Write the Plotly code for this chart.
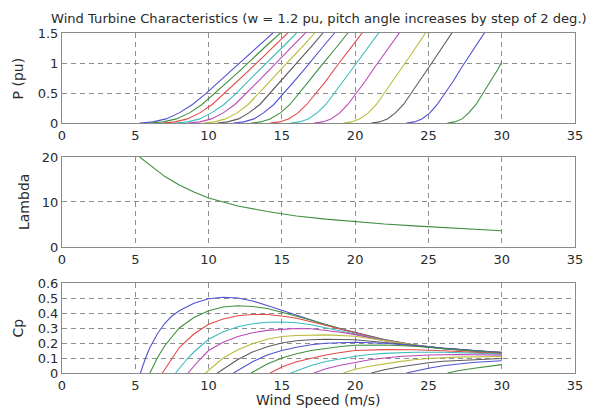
import plotly.graph_objects as go

# ---------------- data ----------------
COLORS = ["#5252d4", "#3f8f3f", "#e24a4a", "#3cbcbc", "#bb4abb", "#bcbc3a", "#5c5c5c"]

# Power curves: wind speed (m/s) and power (pu) for pitch 0,2,...,30 deg
P_SPEED = [
    [5.3, 6.2, 7.1, 8.0, 8.9, 9.85, 10.75, 11.65, 12.6, 13.5, 14.4, 15.3],
    [6.0, 6.9, 7.8, 8.7, 9.55, 10.45, 11.35, 12.25, 13.1, 14.0, 14.9, 15.8],
    [6.85, 7.7, 8.55, 9.4, 10.25, 11.1, 12.0, 12.85, 13.7, 14.55, 15.4, 16.25],
    [7.75, 8.6, 9.4, 10.2, 11.05, 11.9, 12.7, 13.55, 14.35, 15.2, 16.0, 16.8],
    [8.6, 9.4, 10.2, 11.0, 11.8, 12.6, 13.4, 14.2, 15.0, 15.8, 16.6, 17.4],
    [9.65, 10.4, 11.15, 11.95, 12.7, 13.45, 14.2, 14.95, 15.75, 16.5, 17.25, 18.0],
    [10.6, 11.3, 12.05, 12.75, 13.5, 14.2, 14.9, 15.65, 16.35, 17.1, 17.8, 18.5],
    [11.7, 12.4, 13.1, 13.75, 14.45, 15.15, 15.85, 16.55, 17.2, 17.9, 18.6, 19.3],
    [12.9, 13.55, 14.2, 14.9, 15.55, 16.2, 16.85, 17.5, 18.2, 18.85, 19.5, 20.15],
    [14.2, 14.85, 15.45, 16.1, 16.7, 17.35, 18.0, 18.6, 19.25, 19.85, 20.5, 21.1],
    [15.6, 16.2, 16.8, 17.4, 18.0, 18.6, 19.2, 19.8, 20.4, 21.0, 21.6, 22.2],
    [17.2, 17.8, 18.35, 18.95, 19.5, 20.1, 20.7, 21.25, 21.85, 22.4, 23.0, 23.6],
    [19.2, 19.75, 20.3, 20.9, 21.45, 22.0, 22.55, 23.1, 23.7, 24.25, 24.8, 25.35],
    [21.1, 21.65, 22.2, 22.75, 23.3, 23.85, 24.4, 24.95, 25.5, 26.05, 26.6, 27.15],
    [23.5, 24.05, 24.55, 25.1, 25.6, 26.15, 26.7, 27.2, 27.75, 28.25, 28.8, 29.35],
    [26.3, 26.8, 27.3, 27.75, 28.25, 28.75, 29.25, 29.75, 30.0],
]
P_VALUE = [
    [0, 0.02, 0.07, 0.17, 0.31, 0.5, 0.7, 0.9, 1.1, 1.3, 1.5, 1.7],
] * 15 + [
    [0, 0.02, 0.07, 0.17, 0.31, 0.5, 0.7, 0.9, 1.02],
]

# Tip speed ratio curve
LAMBDA_SPEED = [5.3, 6, 7, 8, 9, 10, 12, 14, 16, 18, 20, 22, 24, 26, 28, 30]
LAMBDA_VALUE = [20, 18.2, 15.7, 13.8, 12.2, 10.9, 9.1, 7.9, 6.9, 6.2, 5.6, 5.1, 4.7, 4.3, 3.95, 3.6]

# Power coefficient curves
CP_SPEED = [
    [5.35, 5.7, 6, 6.5, 7, 7.5, 8, 9, 10, 11, 12, 13, 14, 15, 16, 17, 18, 19, 20, 22, 24, 26, 28, 30],
    [6.0, 6.5, 7, 8, 9, 10, 11, 12, 13, 14, 15, 16, 17, 18, 19, 20, 22, 24, 26, 28, 30],
    [6.85, 7.5, 8, 9, 10, 11, 12, 13, 14, 15, 16, 17, 18, 19, 20, 22, 24, 26, 28, 30],
    [7.75, 8.5, 9, 10, 11, 12, 13, 14, 15, 16, 17, 18, 19, 20, 22, 24, 26, 30],
    [8.6, 9.3, 10, 11, 12, 13, 14, 15, 16, 17, 18, 19, 20, 22, 24, 26, 30],
    [9.8, 11, 12, 13, 14, 15, 16, 17, 18, 20, 22, 24, 26, 30],
    [10.6, 12, 13, 14, 15, 16, 17, 18, 20, 22, 24, 26, 30],
    [11.7, 13, 14, 15, 16, 17, 18, 20, 22, 24, 26, 30],
    [12.9, 14, 15, 16, 17, 18, 19, 20, 22, 24, 26, 30],
    [14.2, 15, 16, 17, 18, 19, 20, 22, 24, 26, 30],
    [15.6, 16, 17, 18, 19, 20, 21, 22, 24, 26, 30],
    [17.2, 18, 19, 20, 21, 22, 23, 25, 27, 30],
    [19.2, 20, 21, 22, 23, 24, 25, 27, 30],
    [21.1, 22, 23, 24, 25, 26, 28, 30],
    [23.5, 24, 25, 26, 27, 28, 30],
    [26.3, 27, 28, 29, 30],
]
CP_VALUE = [
    [0, 0.1, 0.17, 0.26, 0.33, 0.38, 0.415, 0.465, 0.495, 0.505, 0.5, 0.48, 0.45, 0.418, 0.385, 0.352, 0.322, 0.294, 0.27, 0.223, 0.188, 0.164, 0.148, 0.138],
    [0, 0.1, 0.18, 0.3, 0.37, 0.415, 0.44, 0.448, 0.443, 0.43, 0.405, 0.38, 0.352, 0.323, 0.295, 0.268, 0.222, 0.187, 0.163, 0.147, 0.137],
    [0, 0.1, 0.17, 0.26, 0.325, 0.36, 0.382, 0.39, 0.39, 0.38, 0.365, 0.342, 0.318, 0.292, 0.266, 0.22, 0.186, 0.162, 0.147, 0.136],
    [0, 0.09, 0.14, 0.225, 0.275, 0.308, 0.328, 0.338, 0.34, 0.335, 0.322, 0.303, 0.282, 0.26, 0.218, 0.185, 0.162, 0.134],
    [0, 0.08, 0.15, 0.205, 0.243, 0.268, 0.284, 0.293, 0.297, 0.295, 0.286, 0.272, 0.256, 0.216, 0.185, 0.163, 0.135],
    [0, 0.1, 0.155, 0.195, 0.225, 0.243, 0.25, 0.254, 0.254, 0.245, 0.215, 0.186, 0.164, 0.137],
    [0, 0.09, 0.14, 0.175, 0.2, 0.215, 0.222, 0.225, 0.222, 0.205, 0.185, 0.165, 0.137],
    [0, 0.075, 0.12, 0.15, 0.172, 0.188, 0.198, 0.205, 0.198, 0.182, 0.163, 0.134],
    [0, 0.06, 0.1, 0.128, 0.15, 0.165, 0.177, 0.185, 0.187, 0.178, 0.162, 0.132],
    [0, 0.04, 0.075, 0.1, 0.12, 0.137, 0.15, 0.156, 0.155, 0.148, 0.129],
    [0, 0.015, 0.05, 0.077, 0.097, 0.112, 0.123, 0.131, 0.138, 0.138, 0.127],
    [0, 0.028, 0.052, 0.072, 0.088, 0.1, 0.11, 0.12, 0.123, 0.119],
    [0, 0.025, 0.045, 0.062, 0.076, 0.088, 0.097, 0.106, 0.11],
    [0, 0.022, 0.04, 0.055, 0.068, 0.078, 0.09, 0.097],
    [0, 0.012, 0.032, 0.048, 0.06, 0.07, 0.082],
    [0, 0.015, 0.03, 0.045, 0.056],
]

X_TICKS = [0, 5, 10, 15, 20, 25, 30, 35]
P_TICKS = [0, 0.5, 1, 1.5]
P_TICKTEXT = ["0", "0.5", "1", "1.5"]
LAMBDA_TICKS = [0, 10, 20]
CP_TICKS = [0, 0.1, 0.2, 0.3, 0.4, 0.5, 0.6]
CP_TICKTEXT = ["0", "0.1", "0.2", "0.3", "0.4", "0.5", "0.6"]

TITLE = "Wind Turbine Characteristics (w = 1.2 pu, pitch angle increases by step of 2 deg.)"

# ---------------- figure ----------------
fig = go.Figure()
LW = 1.1

for i, (xs, ys) in enumerate(zip(P_SPEED, P_VALUE)):
    fig.add_trace(go.Scatter(x=xs, y=ys, mode="lines", xaxis="x", yaxis="y",
                             line=dict(color=COLORS[i % 7], width=LW), showlegend=False))

fig.add_trace(go.Scatter(x=LAMBDA_SPEED, y=LAMBDA_VALUE, mode="lines", xaxis="x2", yaxis="y2",
                         line=dict(color=COLORS[1], width=LW), showlegend=False))

for i, (xs, ys) in enumerate(zip(CP_SPEED, CP_VALUE)):
    fig.add_trace(go.Scatter(x=xs, y=ys, mode="lines", xaxis="x3", yaxis="y3",
                             line=dict(color=COLORS[i % 7], width=LW), showlegend=False))

FONT = "DejaVu Sans, Verdana, sans-serif"
TXT = "#2a2a2a"
AXCOL = "#8a8a8a"
GRIDCOL = "#8f8f8f"

xcommon = dict(range=[0, 35], tickvals=X_TICKS, showgrid=True, gridcolor=GRIDCOL,
               griddash="5px,4px", gridwidth=1, showline=True, mirror=True,
               linecolor=AXCOL, linewidth=1, zeroline=False, ticks="",
               tickfont=dict(family=FONT, size=13, color=TXT))
ycommon = dict(showgrid=True, gridcolor=GRIDCOL, griddash="5px,4px", gridwidth=1,
               showline=True, mirror=True, linecolor=AXCOL, linewidth=1,
               zeroline=False, ticks="", tickfont=dict(family=FONT, size=13, color=TXT))

# the page body adds an 8px offset, so the figure is 8px smaller than the window
fig.update_layout(
    width=587, height=400,
    margin=dict(l=54, r=17, t=25, b=35),
    paper_bgcolor="white", plot_bgcolor="white",
    xaxis=dict(xcommon, anchor="y"),
    xaxis2=dict(xcommon, anchor="y2"),
    xaxis3=dict(xcommon, anchor="y3"),
    yaxis=dict(ycommon, domain=[0.735, 1.0], range=[0, 1.5], tickvals=P_TICKS,
               ticktext=P_TICKTEXT, anchor="x"),
    yaxis2=dict(ycommon, domain=[0.3706, 0.6353], range=[0, 20], tickvals=LAMBDA_TICKS,
                anchor="x2"),
    yaxis3=dict(ycommon, domain=[0.0, 0.2647], range=[0, 0.6], tickvals=CP_TICKS,
                ticktext=CP_TICKTEXT, anchor="x3"),
    annotations=[
        dict(text=TITLE, x=0.5, y=1.044, xref="paper", yref="paper", showarrow=False,
             xanchor="center", yanchor="middle", font=dict(family=FONT, size=13.1, color=TXT)),
        dict(text="Wind Speed (m/s)", x=0.5, y=-0.078, xref="paper", yref="paper",
             showarrow=False, xanchor="center", yanchor="middle",
             font=dict(family=FONT, size=14, color=TXT)),
        dict(text="P (pu)", x=-0.085, y=0.8675, xref="paper", yref="paper", showarrow=False,
             textangle=-90, xanchor="center", yanchor="middle",
             font=dict(family=FONT, size=14, color=TXT)),
        dict(text="Lambda", x=-0.074, y=0.503, xref="paper", yref="paper", showarrow=False,
             textangle=-90, xanchor="center", yanchor="middle",
             font=dict(family=FONT, size=14, color=TXT)),
        dict(text="Cp", x=-0.085, y=0.132, xref="paper", yref="paper", showarrow=False,
             textangle=-90, xanchor="center", yanchor="middle",
             font=dict(family=FONT, size=14, color=TXT)),
    ],
)

fig.write_html("out.html")
